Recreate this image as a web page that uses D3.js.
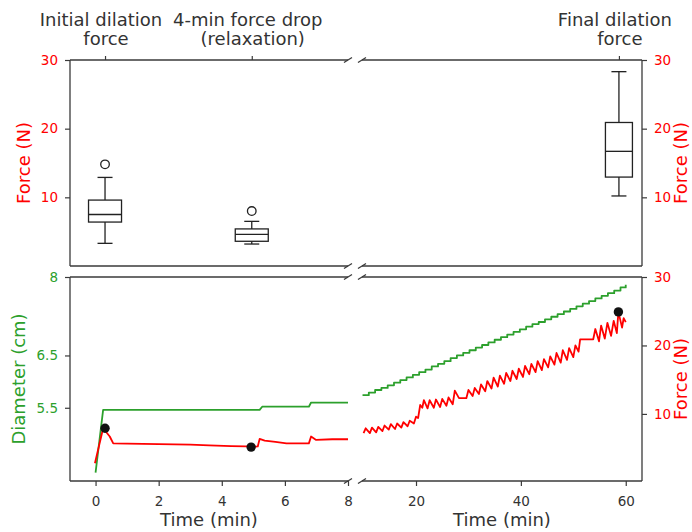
<!DOCTYPE html>
<html>
<head>
<meta charset="utf-8">
<script src="https://cdn.jsdelivr.net/npm/d3@7"></script>
<style>
  html, body { margin: 0; padding: 0; background: #fff; }
  svg { display: block; font-family: "DejaVu Sans", sans-serif; }
</style>
</head>
<body>
<svg id="chart" width="692" height="532"></svg>
<script>
// ---------- data ----------
// Force box plots (N), placed at the time of the event they summarise
const boxNames = [["Initial dilation", "force"], ["4-min force drop", "(relaxation)"], ["Final dilation", "force"]];
const boxTimes = [0.3, 4.95, 58.7];
const boxLow = [3.3, 3.2, 10.2];
const boxQ1 = [6.4, 3.6, 12.95];
const boxMedian = [7.5, 4.6, 16.7];
const boxQ3 = [9.6, 5.4, 20.9];
const boxHigh = [12.9, 6.5, 28.3];
const boxOutliers = [[14.8], [8.0], []];

// First 8 minutes: balloon diameter (cm) and force (N)
const earlyDiamTime = [0, 0.24, 5.2, 5.28, 6.76, 6.83, 8.0];
const earlyDiam = [4.26, 5.46, 5.46, 5.52, 5.52, 5.60, 5.60];
const earlyForceTime = [-0.02, 0.24, 0.45, 0.56, 1.0, 2.0, 3.0, 3.6, 4.3, 4.77, 4.93, 5.14, 5.2, 5.36, 5.7, 6.05, 6.76, 6.83, 6.99, 7.5, 8.0];
const earlyForce = [2.8, 7.9, 6.7, 5.7, 5.65, 5.6, 5.5, 5.4, 5.3, 5.25, 5.15, 5.25, 6.35, 6.1, 5.9, 5.7, 5.7, 6.7, 6.2, 6.3, 6.3];

// Stepwise dilation from 10 to 60 min
const lateDiamTime = [9.8, 11.0, 12.2, 13.4, 14.6, 15.8, 17.0, 18.2, 19.4, 20.6, 21.8, 23.0, 24.2, 25.4, 26.6, 27.8, 29.0, 30.2, 31.4, 32.6, 33.8, 35.0, 36.2, 37.4, 38.6, 39.8, 41.0, 42.2, 43.4, 44.6, 45.8, 47.0, 48.2, 49.4, 50.6, 51.8, 53.0, 54.2, 55.4, 56.6, 57.8, 59.0, 60.0];
const lateDiam = [5.74, 5.79, 5.84, 5.88, 5.93, 5.98, 6.03, 6.08, 6.13, 6.18, 6.23, 6.29, 6.34, 6.39, 6.45, 6.50, 6.55, 6.60, 6.65, 6.70, 6.75, 6.80, 6.85, 6.90, 6.95, 7.00, 7.05, 7.10, 7.14, 7.19, 7.24, 7.29, 7.34, 7.39, 7.44, 7.49, 7.54, 7.59, 7.64, 7.69, 7.74, 7.80, 7.85];
const lateForceTime = [10.0, 10.4, 11.2, 11.6, 12.4, 12.8, 13.6, 14.0, 14.8, 15.2, 16.0, 16.4, 17.2, 17.6, 18.4, 18.8, 19.6, 20.0, 20.4, 20.8, 21.2, 21.5, 22.2, 22.6, 23.4, 23.8, 24.6, 25.0, 25.8, 26.2, 27.0, 27.4, 28.2, 29.6, 30.0, 30.8, 31.2, 32.0, 32.4, 33.2, 33.6, 34.4, 34.8, 35.6, 36.0, 36.8, 37.2, 38.0, 38.4, 39.2, 39.6, 40.4, 40.8, 41.6, 42.0, 42.8, 43.2, 44.0, 44.4, 45.2, 45.6, 46.4, 46.8, 47.6, 48.0, 48.8, 49.2, 50.0, 50.4, 51.0, 51.3, 53.8, 54.2, 54.9, 55.3, 56.0, 56.5, 57.2, 57.7, 58.3, 58.6, 59.3, 59.6, 60.0];
const lateForce = [7.2, 7.9, 7.2, 8.0, 7.3, 8.1, 7.5, 8.3, 7.7, 8.5, 7.8, 8.6, 8.0, 8.8, 8.2, 9.0, 8.6, 9.6, 9.4, 11.3, 10.9, 12.0, 10.8, 12.0, 10.9, 12.1, 11.0, 12.2, 11.2, 12.4, 11.4, 13.4, 12.3, 12.3, 13.5, 12.6, 13.8, 12.9, 14.3, 13.3, 14.8, 13.7, 15.3, 14.0, 15.6, 14.4, 16.0, 14.8, 16.3, 15.1, 16.6, 15.4, 17.0, 15.8, 17.3, 16.1, 17.7, 16.4, 18.0, 16.8, 18.4, 17.2, 18.9, 17.5, 19.3, 17.9, 19.6, 18.3, 20.0, 19.1, 20.9, 20.9, 22.4, 20.6, 22.9, 21.0, 23.3, 21.4, 23.6, 21.8, 24.9, 22.6, 24.0, 23.4];

// Force readings marked on the trace
const markTime = [0.3, 4.93, 58.6];
const markForce = [7.9, 5.15, 24.9];

// Axis ticks
const leftTimeTicks = [0, 2, 4, 6, 8];
const rightTimeTicks = [20, 40, 60];
const forceTicks = [10, 20, 30];
const diamTicks = [5.5, 6.5, 8];

// ---------- layout ----------
const RED = "#ff0000", GREEN = "#2ca02c", INK = "#333", SPINE = "#3a3a3a";
const xL0 = 70, xL1 = 348, xR0 = 362, xR1 = 642;
const yT0 = 60, yT1 = 266, yB0 = 277, yB1 = 481;

const xLeft = d3.scaleLinear().domain([-0.81, 8]).range([xL0, xL1]);
const xRight = d3.scaleLinear().domain([9.7, 63.1]).range([xR0, xR1]);
const yTop = d3.scaleLinear().domain([0, 30]).range([yT1, yT0]);
const yDiam = d3.scaleLinear().domain([4.1, 8]).range([yB1, yB0]);
const yForce = d3.scaleLinear().domain([0.2, 30]).range([yB1, yB0]);

const svg = d3.select("#chart");
const defs = svg.append("defs");
function clip(id, x0, x1, y0, y1) {
  defs.append("clipPath").attr("id", id).append("rect")
    .attr("x", x0).attr("y", y0 - 6).attr("width", x1 - x0).attr("height", y1 - y0 + 12);
  return `url(#${id})`;
}
const clipBL = clip("cBL", xL0, xL1, yB0, yB1);
const clipBR = clip("cBR", xR0, xR1, yB0, yB1);

// ---------- spines & break marks ----------
const spines = svg.append("g").attr("stroke", SPINE).attr("stroke-width", 1.3).attr("fill", "none");
function hline(x0, x1, y) { spines.append("line").attr("x1", x0).attr("x2", x1).attr("y1", y).attr("y2", y); }
function vline(x, y0, y1) { spines.append("line").attr("x1", x).attr("x2", x).attr("y1", y0).attr("y2", y1); }
[[yT0, yT1], [yB0, yB1]].forEach(([a, b]) => {
  hline(xL0, xL1, a); hline(xL0, xL1, b);
  hline(xR0, xR1, a); hline(xR0, xR1, b);
  vline(xL0, a, b); vline(xR1, a, b);
  [xL1, xR0].forEach(x => [a, b].forEach(y => {
    spines.append("line").attr("x1", x - 4).attr("y1", y + 2.5).attr("x2", x + 4).attr("y2", y - 2.5);
  }));
});

// ---------- axes ----------
function styleAxis(g, color) {
  g.select(".domain").remove();
  g.selectAll(".tick line").attr("stroke", SPINE).attr("stroke-width", 1.2);
  g.selectAll(".tick text").attr("fill", color).attr("font-size", 13.5)
    .attr("font-family", '"DejaVu Sans", sans-serif');
}
svg.append("g").attr("transform", `translate(${xL0},0)`)
  .call(d3.axisLeft(yTop).tickValues(forceTicks).tickSize(5).tickPadding(7))
  .call(g => styleAxis(g, RED));
svg.append("g").attr("transform", `translate(${xR1},0)`)
  .call(d3.axisRight(yTop).tickValues(forceTicks).tickSize(5).tickPadding(7))
  .call(g => styleAxis(g, RED));
svg.append("g").attr("transform", `translate(${xL0},0)`)
  .call(d3.axisLeft(yDiam).tickValues(diamTicks).tickFormat(d3.format("")).tickSize(5).tickPadding(7))
  .call(g => styleAxis(g, GREEN));
svg.append("g").attr("transform", `translate(${xR1},0)`)
  .call(d3.axisRight(yForce).tickValues(forceTicks).tickSize(5).tickPadding(7))
  .call(g => styleAxis(g, RED));
svg.append("g").attr("transform", `translate(0,${yB1})`)
  .call(d3.axisBottom(xLeft).tickValues(leftTimeTicks).tickSize(5).tickPadding(10))
  .call(g => styleAxis(g, INK));
svg.append("g").attr("transform", `translate(0,${yB1})`)
  .call(d3.axisBottom(xRight).tickValues(rightTimeTicks).tickSize(5).tickPadding(10))
  .call(g => styleAxis(g, INK));
// category ticks along the top of the box-plot panel
svg.append("g").attr("transform", `translate(0,${yT0})`)
  .call(d3.axisTop(xLeft).tickValues(boxTimes.slice(0, 2)).tickSize(4).tickFormat(""))
  .call(g => styleAxis(g, INK));
svg.append("g").attr("transform", `translate(0,${yT0})`)
  .call(d3.axisTop(xRight).tickValues(boxTimes.slice(2)).tickSize(4).tickFormat(""))
  .call(g => styleAxis(g, INK));

// ---------- axis titles ----------
const titleSize = 18;
function vtitle(x, y, text, color) {
  svg.append("text").attr("transform", `translate(${x},${y}) rotate(-90)`)
    .attr("text-anchor", "middle").attr("font-size", titleSize).attr("fill", color).text(text);
}
vtitle(29.5, (yT0 + yT1) / 2, "Force (N)", RED);
vtitle(24.5, (yB0 + yB1) / 2, "Diameter (cm)", GREEN);
vtitle(687, (yT0 + yT1) / 2, "Force (N)", RED);
vtitle(687, (yB0 + yB1) / 2, "Force (N)", RED);
[[xL0, xL1], [xR0, xR1]].forEach(([a, b]) => {
  svg.append("text").attr("x", (a + b) / 2).attr("y", 526).attr("text-anchor", "middle")
    .attr("font-size", titleSize).attr("fill", INK).text("Time (min)");
});

// ---------- box plots ----------
const boxG = svg.append("g").attr("stroke", "#222").attr("stroke-width", 1.3).attr("fill", "none");
boxTimes.forEach((t, i) => {
  const onLeft = t < 8.5;
  const cx = (onLeft ? xLeft : xRight)(t);
  const hw = (onLeft ? 33 : 27) / 2, cw = 7.5;
  boxG.append("line").attr("x1", cx).attr("x2", cx).attr("y1", yTop(boxHigh[i])).attr("y2", yTop(boxQ3[i]));
  boxG.append("line").attr("x1", cx).attr("x2", cx).attr("y1", yTop(boxQ1[i])).attr("y2", yTop(boxLow[i]));
  boxG.append("line").attr("x1", cx - cw).attr("x2", cx + cw).attr("y1", yTop(boxHigh[i])).attr("y2", yTop(boxHigh[i]));
  boxG.append("line").attr("x1", cx - cw).attr("x2", cx + cw).attr("y1", yTop(boxLow[i])).attr("y2", yTop(boxLow[i]));
  boxG.append("rect").attr("x", cx - hw).attr("width", 2 * hw)
    .attr("y", yTop(boxQ3[i])).attr("height", yTop(boxQ1[i]) - yTop(boxQ3[i]));
  boxG.append("line").attr("x1", cx - hw).attr("x2", cx + hw).attr("y1", yTop(boxMedian[i])).attr("y2", yTop(boxMedian[i]));
  boxOutliers[i].forEach(v => boxG.append("circle").attr("cx", cx).attr("cy", yTop(v)).attr("r", 4.3));
  // two-line category label above the panel
  const lab = svg.append("text").attr("text-anchor", "middle").attr("font-size", titleSize).attr("fill", INK);
  lab.append("tspan").attr("x", cx - 4).attr("y", 26).text(boxNames[i][0]);
  lab.append("tspan").attr("x", cx + 1).attr("y", 45).text(boxNames[i][1]);
});

// ---------- time traces ----------
function trace(clipUrl, xs, ys, times, vals, color, curve) {
  const line = d3.line().x((d, i) => xs(times[i])).y(d => ys(d)).curve(curve || d3.curveLinear);
  svg.append("path").attr("clip-path", clipUrl).datum(vals)
    .attr("d", line).attr("fill", "none").attr("stroke", color)
    .attr("stroke-width", 1.8).attr("stroke-linejoin", "round");
}
trace(clipBL, xLeft, yDiam, earlyDiamTime, earlyDiam, GREEN);
trace(clipBL, xLeft, yForce, earlyForceTime, earlyForce, RED);
trace(clipBR, xRight, yDiam, lateDiamTime, lateDiam, GREEN, d3.curveStepAfter);
trace(clipBR, xRight, yForce, lateForceTime, lateForce, RED);

// marked force readings
markTime.forEach((t, i) => {
  const xs = t < 8.5 ? xLeft : xRight;
  svg.append("circle").attr("cx", xs(t)).attr("cy", yForce(markForce[i])).attr("r", 4.7).attr("fill", "#111");
});
</script>
</body>
</html>
